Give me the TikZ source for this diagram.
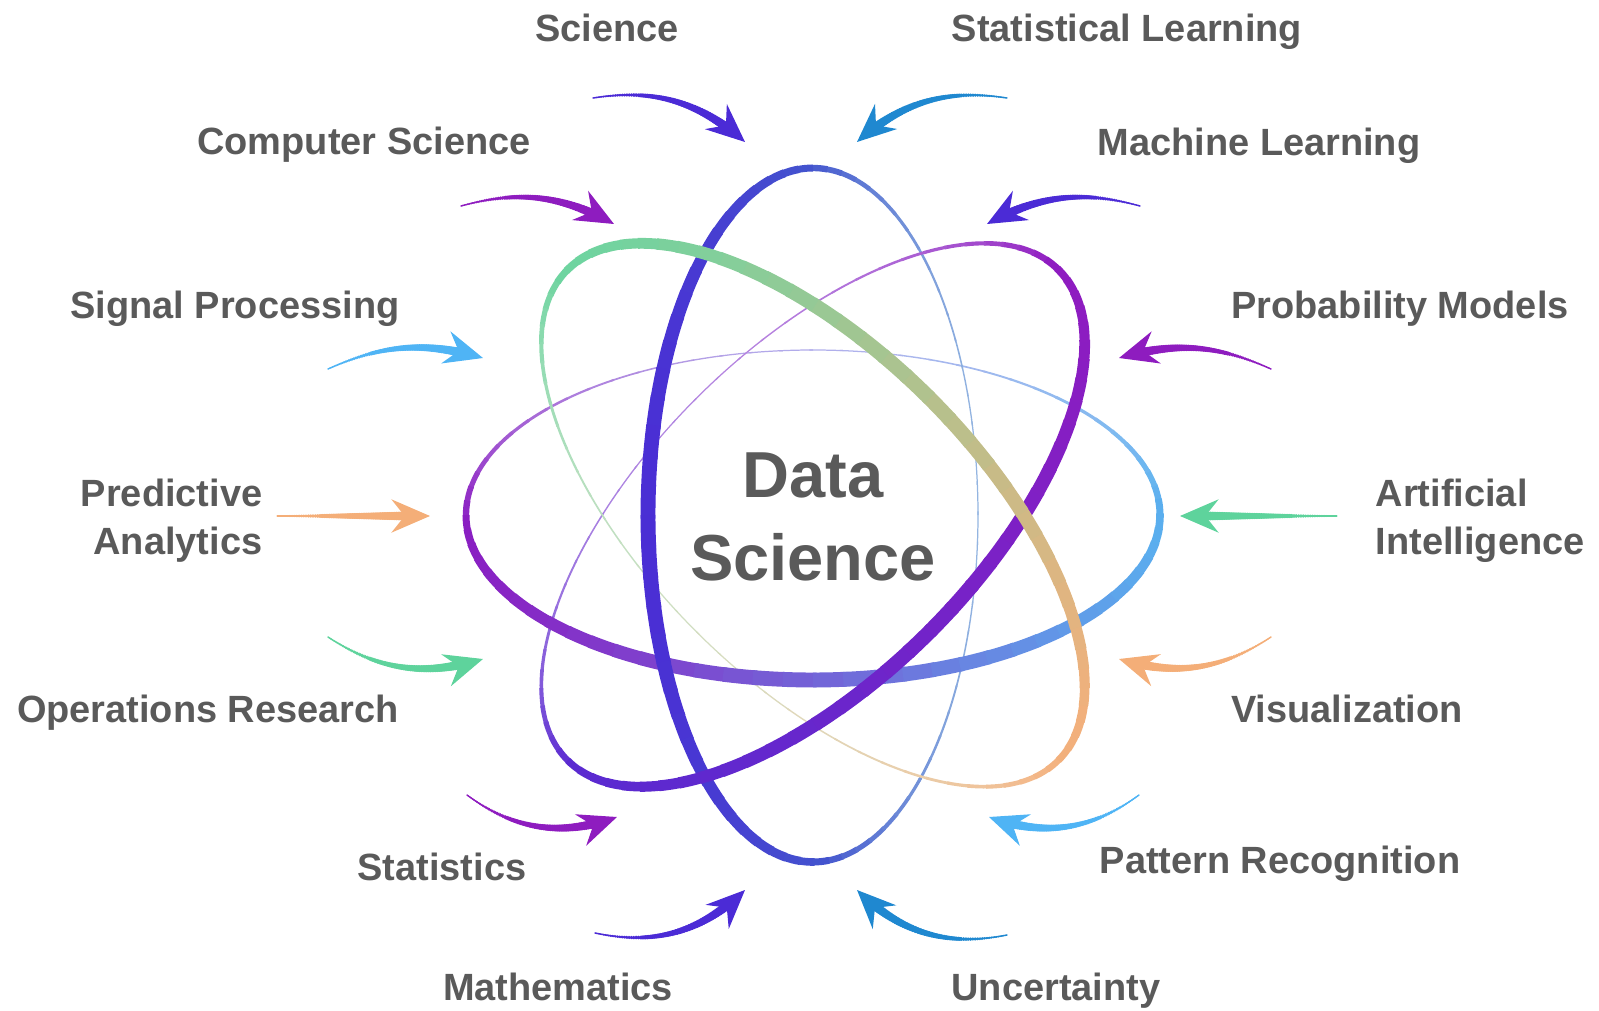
\documentclass[tikz,border=0pt]{standalone}
\usepackage{fontspec}
\setmainfont{Liberation Sans}
\usetikzlibrary{arrows.meta, decorations.markings}

\definecolor{labelgray}{RGB}{90,90,90}
% arrow colours
\definecolor{feedindigo}{HTML}{4B2BD6}
\definecolor{feedblue}{HTML}{1F88D0}
\definecolor{feedpurple}{HTML}{8E1CBF}
\definecolor{feedsky}{HTML}{4FB4F5}
\definecolor{feedorange}{HTML}{F4AE78}
\definecolor{feedgreen}{HTML}{5ED39C}
% orbit colours
\definecolor{orbpurple}{HTML}{8A1EC2}
\definecolor{orbblue}{HTML}{5AAEEE}
\definecolor{orbindigo}{HTML}{4A2ED4}
\definecolor{orbsteel}{HTML}{3C78C8}
\definecolor{orbviolet}{HTML}{5A2AD0}
\definecolor{orbplum}{HTML}{8E1CC0}
\definecolor{orbgreen}{HTML}{6ED4A0}
\definecolor{orborange}{HTML}{F2B07C}

\begin{document}
\begin{tikzpicture}[
  every node/.style={text=labelgray, inner sep=0pt, font=\bfseries\fontsize{10.8}{13.7}\selectfont},
  feed/.style={line width=0.4pt, -{Stealth[length=11pt, width=9.5pt, inset=3.8pt]},
    postaction={decorate}, decoration={markings,
      mark=between positions 0 and 0.9 step 0.5pt with {
        \pgfmathsetmacro\rr{0.2+1.3*\pgfkeysvalueof{/pgf/decoration/mark info/distance from start}/\pgfdecoratedpathlength}
        \fill (0,0) circle[radius=\rr pt];}}}
  ]
  \useasboundingbox (-8.13,-4.95) rectangle (7.86,5.15);

  % Orbits (thin halves first, thick halves on top)
  \foreach \pass in {0,1}{
    \foreach \rot/\thk/\cph/\ca/\cb in {0/270/180/orbpurple/orbblue, 90/90/90/orbindigo/orbsteel,
        45/270/180/orbviolet/orbplum, -45/90/180/orbgreen/orborange}{
      \foreach \ang in {0,5,...,355}{
        \pgfmathsetmacro\f{(1+cos(\ang-\thk))/2}
        \pgfmathtruncatemacro\half{\f>=0.5}
        \ifnum\half=\pass
          \pgfmathsetmacro\w{0.35+3.9*\f*\f^0.25}
          \pgfmathtruncatemacro\m{50*(1+cos(\ang-\cph))}
          \pgfmathtruncatemacro\k{min(100,55+90*\f)}
          \colorlet{segc}{\ca!\m!\cb!\k!white}
          \draw[segc, rotate=\rot, line width=\w pt] (\ang:3.47 and 1.65)
            arc[start angle=\ang, delta angle=5.6, x radius=3.47, y radius=1.65];
        \fi
      }
    }
  }

  % Centre
  \node[font=\bfseries\fontsize{18.5}{23.6}\selectfont, align=center] (ds) at (0,-0.02) {Data\\Science};

  % Labels
  \node[anchor=base] (sci) at (-2.06,4.73) {Science};
  \node[anchor=base] (stl) at (3.14,4.73) {Statistical Learning};
  \node[anchor=base] (cs) at (-4.49,3.60) {Computer Science};
  \node[anchor=base] (ml) at (4.46,3.59) {Machine Learning};
  \node[anchor=base] (sp) at (-5.78,1.96) {Signal Processing};
  \node[anchor=base] (pm) at (5.87,1.96) {Probability Models};
  \node[anchor=east, align=right] (pa) at (-5.50,-0.06) {Predictive\\Analytics};
  \node[anchor=west, align=left] (ai) at (5.62,-0.06) {Artificial\\Intelligence};
  \node[anchor=base] (or) at (-6.05,-2.07) {Operations Research};
  \node[anchor=base] (vis) at (5.34,-2.07) {Visualization};
  \node[anchor=base] (st) at (-3.71,-3.65) {Statistics};
  \node[anchor=base] (pr) at (4.67,-3.58) {Pattern Recognition};
  \node[anchor=base] (ma) at (-2.55,-4.85) {Mathematics};
  \node[anchor=base] (un) at (2.43,-4.85) {Uncertainty};

  % Arrow ends
  \coordinate (sci1) at (-2.20,4.17);  \coordinate (sci2) at (-0.68,3.73);
  \coordinate (stl1) at (1.94,4.17);   \coordinate (stl2) at (0.44,3.73);
  \coordinate (cs1) at (-3.52,3.09);   \coordinate (cs2) at (-1.99,2.91);
  \coordinate (ml1) at (3.27,3.09);    \coordinate (ml2) at (1.74,2.91);
  \coordinate (sp1) at (-4.85,1.46);   \coordinate (sp2) at (-3.30,1.57);
  \coordinate (pm1) at (4.58,1.46);    \coordinate (pm2) at (3.06,1.57);
  \coordinate (pa1) at (-5.36,-0.01);  \coordinate (pa2) at (-3.83,-0.01);
  \coordinate (ai1) at (5.24,-0.01);   \coordinate (ai2) at (3.67,-0.01);
  \coordinate (or1) at (-4.85,-1.22);  \coordinate (or2) at (-3.30,-1.44);
  \coordinate (vis1) at (4.58,-1.22);  \coordinate (vis2) at (3.06,-1.44);
  \coordinate (st1) at (-3.46,-2.80);  \coordinate (st2) at (-1.96,-3.02);
  \coordinate (pr1) at (3.26,-2.80);   \coordinate (pr2) at (1.76,-3.02);
  \coordinate (ma1) at (-2.18,-4.18);  \coordinate (ma2) at (-0.68,-3.75);
  \coordinate (un1) at (1.94,-4.20);   \coordinate (un2) at (0.44,-3.75);

  % Arrows, upper half
  \draw[feed, feedindigo] (sci1) to[bend left=25] (sci2);
  \draw[feed, feedblue] (stl1) to[bend right=25] (stl2);
  \draw[feed, feedpurple] (cs1) to[bend left=22] (cs2);
  \draw[feed, feedindigo] (ml1) to[bend right=22] (ml2);
  \draw[feed, feedsky] (sp1) to[bend left=20] (sp2);
  \draw[feed, feedpurple] (pm1) to[bend right=20] (pm2);

  % Arrows, middle
  \draw[feed, feedorange] (pa1) -- (pa2);
  \draw[feed, feedgreen] (ai1) -- (ai2);

  % Arrows, lower half
  \draw[feed, feedgreen] (or1) to[bend right=25] (or2);
  \draw[feed, feedorange] (vis1) to[bend left=25] (vis2);
  \draw[feed, feedpurple] (st1) to[bend right=28] (st2);
  \draw[feed, feedsky] (pr1) to[bend left=28] (pr2);
  \draw[feed, feedindigo] (ma1) to[bend right=28] (ma2);
  \draw[feed, feedblue] (un1) to[bend left=28] (un2);

\end{tikzpicture}
\end{document}
